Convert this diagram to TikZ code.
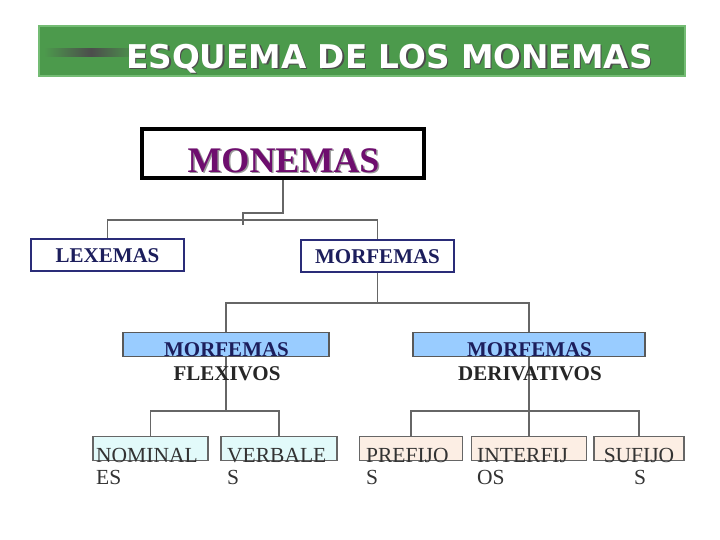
\documentclass[tikz,border=0pt]{standalone}
\usepackage{fontspec}
\setmainfont{Liberation Serif}
\newfontfamily\titlefont{DejaVu Sans}
\definecolor{bgreen}{HTML}{4C9A4C}
\definecolor{bgreenlt}{HTML}{74BC74}
\definecolor{purp}{HTML}{6E0E6E}
\definecolor{navy}{HTML}{1C1E5C}
\definecolor{navyb}{HTML}{2A2C78}
\definecolor{lblue}{HTML}{99CCFF}
\definecolor{lcyan}{HTML}{E2FAFA}
\definecolor{peach}{HTML}{FCEEE4}
\definecolor{conng}{HTML}{666666}
\definecolor{txtg}{HTML}{333333}
\tikzset{
  conn/.style={draw=conng, line width=1.5pt},
  navybox/.style={draw=navyb, line width=2pt, fill=white, minimum width=153pt, minimum height=32pt, inner sep=0pt},
  bluebox/.style={draw=black!65, line width=1.2pt, fill=lblue, minimum height=24pt, inner sep=0pt},
  leafbox/.style={draw=black!60, line width=1.2pt, minimum height=24pt, inner sep=0pt},
  boldlbl/.style={font=\fontsize{21}{21}\selectfont\bfseries, inner sep=0pt, anchor=base},
  leaflbl/.style={font=\fontsize{21.5}{21.5}\selectfont, text=txtg, inner sep=0pt, anchor=base west},
  titletxt/.style={font=\titlefont\fontsize{32.7}{32.7}\selectfont\bfseries, anchor=base west, inner sep=0pt},
}
\begin{document}
\begin{tikzpicture}[x=1pt,y=-1pt]
\useasboundingbox (0,0) rectangle (720,539);
\fill[white] (0,0) rectangle (720,539);
% banner
\node[draw=bgreenlt, line width=1.5pt, fill=bgreen, minimum width=646pt, minimum height=50pt, inner sep=0pt] (banner) at (362,51) {};
\shade[left color=bgreen, right color=bgreen, middle color=black!70] (44,48) rectangle (138,56);
\node[titletxt, text=black!70] (bannershadow) at (127.5,69.5) {ESQUEMA DE LOS MONEMAS};
\node[titletxt, text=white] (bannertext) at (126,68) {ESQUEMA DE LOS MONEMAS};
% boxes
\node[draw=black, line width=4pt, fill=white, minimum width=282pt, minimum height=49pt, inner sep=0pt] (mon) at (283,153.5) {};
\node[font=\fontsize{36}{36}\selectfont\bfseries, text=black!40, anchor=base, inner sep=0pt] (monshadow) at (285,173.5) {MONEMAS};
\node[font=\fontsize{36}{36}\selectfont\bfseries, text=purp, anchor=base, inner sep=0pt] (montext) at (283.5,172) {MONEMAS};
\node[navybox] (lex) at (107.5,255) {};
\node[navybox] (mor) at (377.5,256) {};
\node[bluebox, minimum width=206pt] (flex) at (226,344.5) {};
\node[bluebox, minimum width=232pt] (der) at (529,344.5) {};
\node[leafbox, fill=lcyan, minimum width=115pt] (nom) at (150.5,448.5) {};
\node[leafbox, fill=lcyan, minimum width=116pt] (ver) at (279,448.5) {};
\node[leafbox, fill=peach, minimum width=103pt] (pre) at (411,448.5) {};
\node[leafbox, fill=peach, minimum width=115pt] (int) at (529,448.5) {};
\node[leafbox, fill=peach, minimum width=90pt] (suf) at (639,448.5) {};
% connectors
\draw[conn] (mon.south) -- ++(0,33) -- ++(-40,0) -- ++(0,12) coordinate (tick);
\draw[conn] (lex.north) -- ++(0,-18) -| (mor.north);
\draw[conn] (mor.south) -- ++(0,30) -| (flex.north);
\draw[conn] (mor.south) -- ++(0,30) -| (der.north);
\draw[conn] (flex.south) -- ++(0,54) -| (nom.north);
\draw[conn] (flex.south) -- ++(0,54) -| (ver.north);
\draw[conn] (der.south) -- (int.north);
\draw[conn] (der.south) -- ++(0,54) -| (pre.north);
\draw[conn] (der.south) -- ++(0,54) -| (suf.north);
% labels
\node[boldlbl, text=navy] (lextext) at (107.5,262) {LEXEMAS};
\node[boldlbl, text=navy] (mortext) at (377.5,263) {MORFEMAS};
\node[boldlbl, text=navy] (flext1) at (226.5,356) {MORFEMAS};
\node[boldlbl, text=black!85] (flext2) at (227,380) {FLEXIVOS};
\node[boldlbl, text=navy] (dert1) at (529.5,356) {MORFEMAS};
\node[boldlbl, text=black!85] (dert2) at (530,380) {DERIVATIVOS};
\node[leaflbl] (nomt1) at (96,462) {NOMINAL};
\node[leaflbl] (nomt2) at (96,484) {ES};
\node[leaflbl] (vert1) at (227,462) {VERBALE};
\node[leaflbl] (vert2) at (227,484) {S};
\node[leaflbl] (pret1) at (366,462) {PREFIJO};
\node[leaflbl] (pret2) at (366,484) {S};
\node[leaflbl] (intt1) at (477,462) {INTERFIJ};
\node[leaflbl] (intt2) at (477,484) {OS};
\node[leaflbl, anchor=base] (suft1) at (639,462) {SUFIJO};
\node[leaflbl, anchor=base] (suft2) at (640,484) {S};
\end{tikzpicture}
\end{document}
